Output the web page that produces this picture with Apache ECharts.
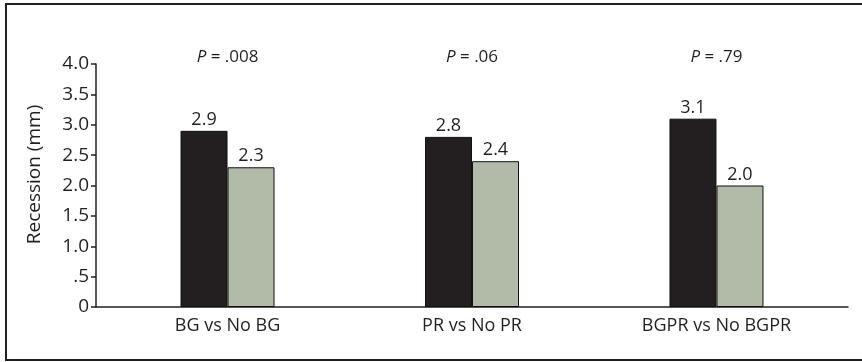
<!DOCTYPE html>
<html>
<head>
<meta charset="utf-8">
<script src="https://cdn.jsdelivr.net/npm/echarts@6/dist/echarts.min.js"></script>
<style>
  html, body { margin: 0; padding: 0; background: #fff; }
  #chart { width: 862px; height: 362px; }
</style>
</head>
<body>
<div id="chart"></div>
<script>
// Gingival recession by comparison group
const categories = ['BG vs No BG', 'PR vs No PR', 'BGPR vs No BGPR'];
const withFactor = [2.9, 2.8, 3.1];     // dark bars
const withoutFactor = [2.3, 2.4, 2.0];  // grey-green bars
const pValues = ['.008', '.06', '.79'];

const FONT = '"Open Sans"';
const INK = '#231f20';
const positions = categories.map((_, i) => i);

function yLabel(v) {
  if (v === 0) return '0';
  if (v < 1) return v.toFixed(1).replace(/^0/, '');
  return v.toFixed(1);
}

const chart = echarts.init(document.getElementById('chart'), null, { renderer: 'canvas' });

chart.setOption({
  backgroundColor: '#ffffff',
  animation: false,
  graphic: [{
    type: 'rect',
    shape: { x: 6, y: 4, width: 860, height: 356 },
    style: { fill: 'none', stroke: INK, lineWidth: 2 },
    silent: true
  }],
  grid: { left: 96, right: 14, top: 64, bottom: 55 },
  xAxis: [{
    type: 'value',
    min: -0.538,
    max: 2.538,
    axisLine: { show: true, onZero: false, lineStyle: { color: INK, width: 1.5 } },
    axisTick: { show: false },
    splitLine: { show: false },
    axisLabel: {
      customValues: positions,
      formatter: v => categories[Math.round(v)],
      fontFamily: FONT, fontSize: 18, color: INK, margin: 10
    }
  }, {
    type: 'value',
    position: 'top',
    min: -0.538,
    max: 2.538,
    axisLine: { show: false },
    axisTick: { show: false },
    splitLine: { show: false },
    axisLabel: {
      customValues: positions,
      formatter: v => '{i|P} = ' + pValues[Math.round(v)],
      fontFamily: FONT, fontSize: 17, color: INK, margin: -2,
      rich: { i: { fontStyle: 'italic', fontFamily: FONT, fontSize: 17, color: INK } }
    }
  }],
  yAxis: {
    type: 'value',
    min: 0,
    max: 4,
    interval: 0.5,
    name: 'Recession (mm)',
    nameLocation: 'middle',
    nameGap: 52,
    nameTextStyle: { fontFamily: FONT, fontSize: 19, color: INK, padding: [0, 0, 0, 22] },
    axisLine: { show: true, onZero: false, lineStyle: { color: INK, width: 1.5 } },
    axisTick: { show: true, inside: false, length: 5, lineStyle: { color: INK, width: 1.5 } },
    splitLine: { show: false },
    axisLabel: {
      formatter: yLabel,
      fontFamily: FONT, fontSize: 19, color: INK, margin: 7
    }
  },
  series: [{
    type: 'bar',
    xAxisIndex: 0,
    barWidth: 47,
    barGap: '0%',
    data: withFactor.map((v, i) => [positions[i], v]),
    itemStyle: { color: INK, borderColor: '#111', borderWidth: 1 },
    label: {
      show: true, position: 'top', distance: 2,
      formatter: p => p.value[1].toFixed(1),
      fontFamily: FONT, fontSize: 18, color: INK
    }
  }, {
    type: 'bar',
    xAxisIndex: 0,
    barWidth: 47,
    barGap: '0%',
    data: withoutFactor.map((v, i) => [positions[i], v]),
    itemStyle: { color: '#b1bba7', borderColor: '#111', borderWidth: 1 },
    label: {
      show: true, position: 'top', distance: 2,
      formatter: p => p.value[1].toFixed(1),
      fontFamily: FONT, fontSize: 18, color: INK
    }
  }]
});
</script>
</body>
</html>
